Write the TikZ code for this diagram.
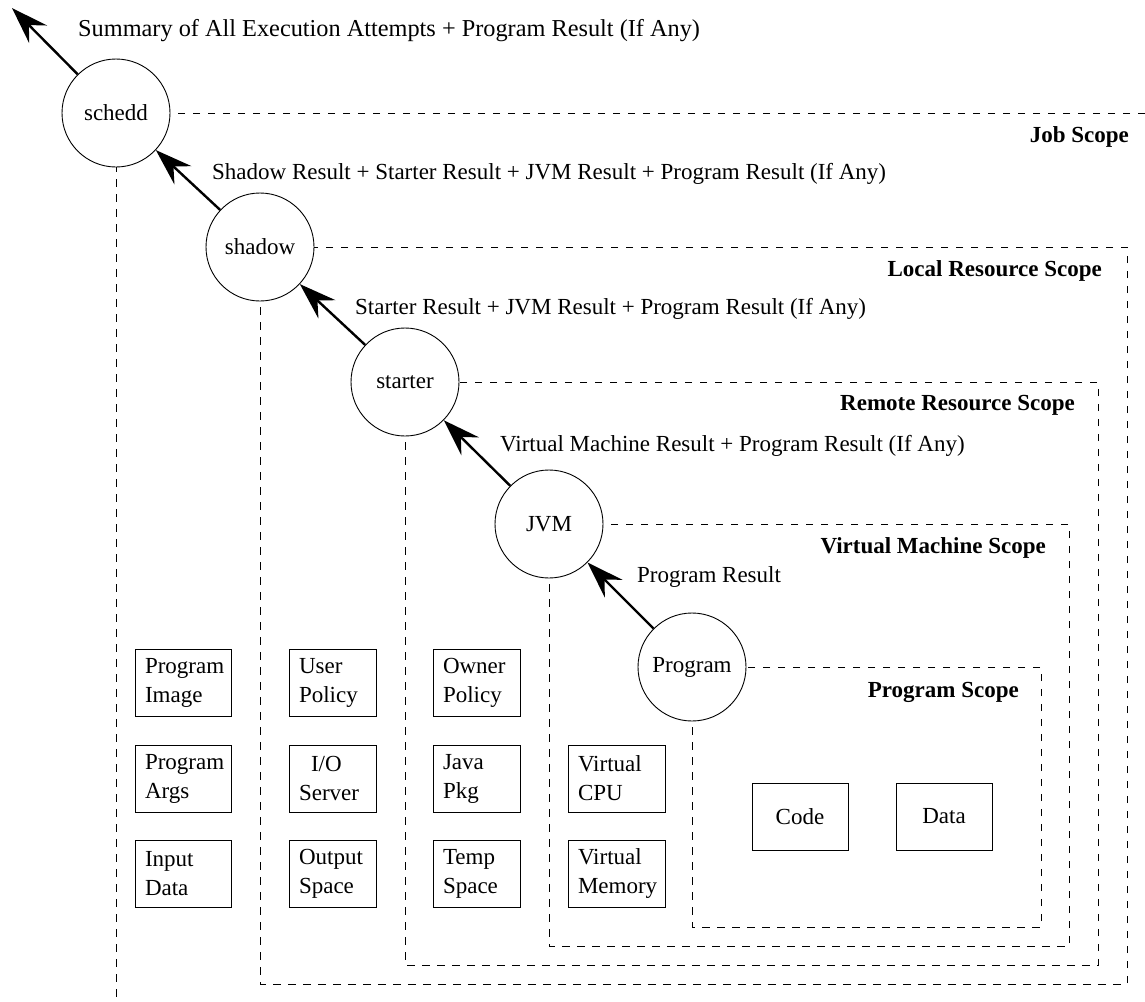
\documentclass[tikz,border=0pt]{standalone}
\usepackage{fontspec}
\setmainfont{Liberation Serif}
\usetikzlibrary{arrows.meta}

\begin{document}
\begin{tikzpicture}[x=1pt,y=-1pt,
    every node/.style={font=\fontsize{23}{29}\selectfont},
    proc/.style={circle,draw,fill=white,minimum size=108pt,inner sep=0pt,line width=0.9pt},
    scopeline/.style={dash pattern=on 7.5pt off 7.5pt,line width=0.9pt},
    scopelbl/.style={font=\fontsize{23}{29}\selectfont\bfseries,anchor=base east,inner sep=0pt},
    res/.style={draw,line width=0.9pt,minimum height=67pt,align=left,inner xsep=10pt,text width=#1},
    res/.default=76pt,
    part/.style={draw,line width=0.9pt,minimum width=96pt,minimum height=67pt,align=center},
    result/.style={-{Stealth[length=37pt,width=25pt,inset=13pt]},line width=2.4pt},
    resultlbl/.style={anchor=base west,inner sep=0pt}]
            \useasboundingbox (0,0) rectangle (1145,1001);

            \coordinate (S) at (116,113);
            \coordinate (Sh) at (260,247);
            \coordinate (St) at (405,382);
            \coordinate (V) at (549,524);
            \coordinate (P) at (692,667);
            \coordinate (out) at (12,8);

            % scopes
            \draw[scopeline] (1145,113) -- (S) -- (116,1001);
            \draw[scopeline] (Sh) rectangle (1127,984);
            \draw[scopeline] (St) rectangle (1098,965);
            \draw[scopeline] (V) rectangle (1069,946);
            \draw[scopeline] (P) rectangle (1041,927);

            \node[scopelbl] (jobscope) at (1129,142) {Job Scope};
            \node[scopelbl] (localscope) at (1102,276) {Local Resource Scope};
            \node[scopelbl] (remotescope) at (1075,410) {Remote Resource Scope};
            \node[scopelbl] (vmscope) at (1046,553) {Virtual Machine Scope};
            \node[scopelbl] (progscope) at (1019,697) {Program Scope};

            % processes
            \node[proc] (schedd) at (S) {schedd};
            \node[proc] (shadow) at (Sh) {shadow};
            \node[proc] (starter) at (St) {starter};
            \node[proc] (jvm) at (V) {JVM};
            \node[proc] (program) at (P) {Program};

            \draw[result] (schedd) -- (out);
            \draw[result] (shadow) -- (schedd);
            \draw[result] (starter) -- (shadow);
            \draw[result] (jvm) -- (starter);
            \draw[result] (program) -- (jvm);

            \node[resultlbl,font=\fontsize{24.3}{29}\selectfont] (r1) at (78,36) {Summary of All Execution Attempts + Program Result (If Any)};
            \node[resultlbl] (r2) at (212,179) {Shadow Result + Starter Result + JVM Result + Program Result (If Any)};
            \node[resultlbl] (r3) at (355,314) {Starter Result + JVM Result + Program Result (If Any)};
            \node[resultlbl] (r4) at (500,451) {Virtual Machine Result + Program Result (If Any)};
            \node[resultlbl] (r5) at (637,582) {Program Result};

            % resources
            \node[res] (image) at (183,683) {Program\\Image};
            \node[res] (args) at (183,778.5) {Program\\Args};
            \node[res] (input) at (183,873.5) {Input\\Data};

            \node[res=67pt] (policy) at (332.5,683) {User\\Policy};
            \node[res=67pt] (ioserver) at (332.5,778.5) {\hspace*{12pt}I/O\\Server};
            \node[res=67pt] (output) at (332.5,873.5) {Output\\Space};

            \node[res=67pt] (owner) at (476.5,683) {Owner\\Policy};
            \node[res=67pt] (javapkg) at (476.5,778.5) {Java\\Pkg};
            \node[res=67pt] (temp) at (476.5,873.5) {Temp\\Space};

            \node[res=77pt] (cpu) at (616.5,778.5) {Virtual\\CPU};
            \node[res=77pt] (memory) at (616.5,873.5) {Virtual\\Memory};

            \node[part] (code) at (800,816.5) {Code};
            \node[part] (data) at (944,816.5) {Data};
        \end{tikzpicture}
\end{document}
